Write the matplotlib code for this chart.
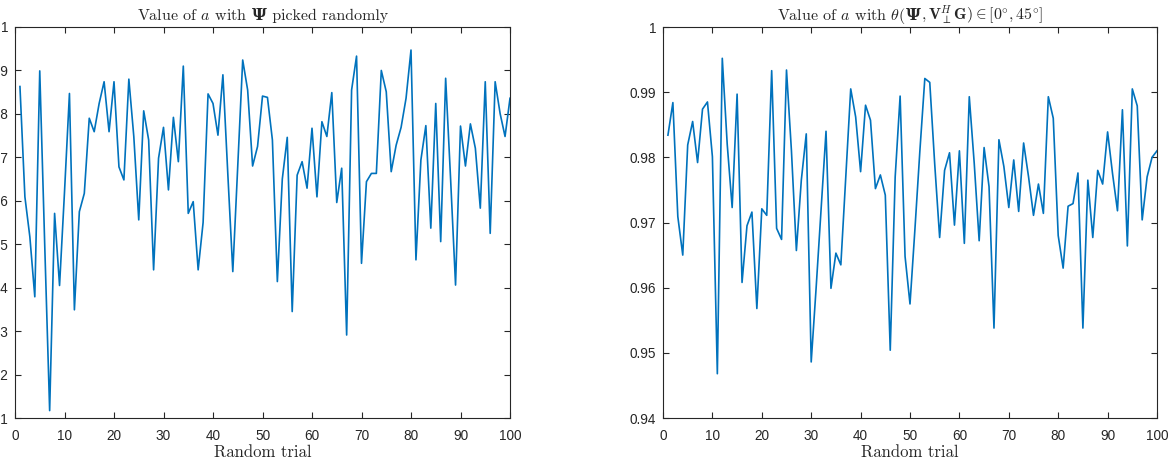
import matplotlib
matplotlib.use("Agg")
import matplotlib.pyplot as plt
from matplotlib.ticker import FuncFormatter

# ---- data ----
trials = list(range(1, 101))

a_random = [
    0.863, 0.609, 0.517, 0.379, 0.899, 0.50, 0.117, 0.571, 0.405, 0.62,
    0.847, 0.349, 0.575, 0.617, 0.790, 0.759, 0.824, 0.874, 0.759, 0.874,
    0.678, 0.648, 0.880, 0.748, 0.556, 0.807, 0.740, 0.441, 0.698, 0.769,
    0.625, 0.792, 0.690, 0.910, 0.571, 0.598, 0.441, 0.55, 0.846, 0.824,
    0.751, 0.890, 0.66, 0.437, 0.68, 0.924, 0.855, 0.680, 0.725, 0.841,
    0.838, 0.740, 0.414, 0.65, 0.746, 0.345, 0.659, 0.690, 0.629, 0.767,
    0.609, 0.782, 0.748, 0.849, 0.596, 0.675, 0.291, 0.855, 0.933, 0.456,
    0.644, 0.663, 0.663, 0.900, 0.851, 0.667, 0.728, 0.769, 0.836, 0.947,
    0.464, 0.694, 0.773, 0.537, 0.824, 0.506, 0.882, 0.65, 0.406, 0.772,
    0.680, 0.777, 0.721, 0.583, 0.874, 0.525, 0.874, 0.801, 0.748, 0.836,
]

a_angle = [
    0.9834, 0.9884, 0.9709, 0.9650, 0.9819, 0.9855, 0.9792, 0.9874, 0.9885, 0.9801,
    0.9468, 0.9952, 0.9820, 0.9723, 0.9897, 0.9608, 0.9695, 0.9716, 0.9568, 0.9721,
    0.9711, 0.9933, 0.9691, 0.9674, 0.9934, 0.9810, 0.9657, 0.9765, 0.9836, 0.9486,
    0.9600, 0.9720, 0.9840, 0.9599, 0.9653, 0.9635, 0.9770, 0.9905, 0.9862, 0.9778,
    0.9880, 0.9857, 0.9752, 0.9773, 0.9742, 0.9504, 0.9770, 0.9894, 0.9648, 0.9575,
    0.9690, 0.9810, 0.9921, 0.9915, 0.9790, 0.9677, 0.9780, 0.9807, 0.9696, 0.9810,
    0.9668, 0.9893, 0.9791, 0.9672, 0.9815, 0.9755, 0.9538, 0.9827, 0.9786, 0.9723,
    0.9796, 0.9717, 0.9822, 0.9770, 0.9711, 0.9759, 0.9714, 0.9893, 0.9860, 0.9680,
    0.9630, 0.9725, 0.9729, 0.9776, 0.9538, 0.9765, 0.9677, 0.9780, 0.9759, 0.9839,
    0.9775, 0.9718, 0.9873, 0.9664, 0.9905, 0.9879, 0.9704, 0.9770, 0.9800, 0.9810,
]

x_ticks = list(range(0, 101, 10))
y_ticks_left = [0.1, 0.2, 0.3, 0.4, 0.5, 0.6, 0.7, 0.8, 0.9, 1.0]
y_ticks_right = [0.94, 0.95, 0.96, 0.97, 0.98, 0.99, 1.0]

# titles as pieces: (text, is_bold_greek, extra gap after in px)
title_left = [(r"Value of $a$ with", False, 5), ("\u03A8", True, 0), (" picked randomly", False, 0)]
title_right = [(r"Value of $a$ with $\theta($", False, 0), ("\u03A8", True, 0),
               (r"$,\mathbf{V}_{\perp}^{H}\mathbf{G})\in[0^{\circ},45^{\circ}]$", False, 0)]
xlabel = "Random trial"

# ---- style ----
plt.rcParams["mathtext.fontset"] = "cm"
plt.rcParams["font.family"] = ["Liberation Sans", "DejaVu Sans"]
LINE = "#0072BD"
AX = "#262626"
TSIZE = 11.5

W, H = 1170, 469
fig = plt.figure(figsize=(W / 100, H / 100), dpi=100)

def px_axes(x0, x1, y0, y1):
    return fig.add_axes([x0 / W, 1 - y1 / H, (x1 - x0) / W, (y1 - y0) / H])

ax1 = px_axes(15, 510, 27, 418)
ax2 = px_axes(663, 1157, 27, 418)

fmt = FuncFormatter(lambda v, p: "{:g}".format(round(v, 4)))

renderer = fig.canvas.get_renderer()

def composed_title(ax, pieces, baseline_px=20):
    bb = ax.get_position()
    cx = (bb.x0 + bb.x1) / 2 * W
    texts = []
    for s, bold, gap in pieces:
        if bold:
            t = fig.text(0, 1 - baseline_px / H, s, fontsize=TSIZE * 1.02,
                         family="DejaVu Serif", weight="bold", color=AX,
                         ha="left", va="baseline")
        else:
            t = fig.text(0, 1 - baseline_px / H, s, fontsize=TSIZE,
                         family="cmr10", color=AX, ha="left", va="baseline")
        texts.append((t, gap))
    widths = [t.get_window_extent(renderer).width + g for t, g in texts]
    x = cx - sum(widths) / 2
    for (t, g), w in zip(texts, widths):
        t.set_x(x / W)
        x += w

for ax, y, yt, ylim, title in [
    (ax1, a_random, y_ticks_left, (0.1, 1.0), title_left),
    (ax2, a_angle, y_ticks_right, (0.94, 1.0), title_right),
]:
    ax.plot(trials, y, color=LINE, linewidth=1.2)
    ax.set_xlim(0, 100)
    ax.set_ylim(*ylim)
    ax.set_xticks(x_ticks)
    ax.set_yticks(yt)
    ax.yaxis.set_major_formatter(fmt)
    ax.tick_params(direction="in", length=4, width=0.8, colors=AX,
                   labelsize=9.8, top=True, right=True, pad=5)
    ax.tick_params(axis="x", pad=8)
    for s in ax.spines.values():
        s.set_color(AX)
        s.set_linewidth(0.8)
    composed_title(ax, title)
    ax.set_xlabel(xlabel, fontsize=12, family="cmr10", color=AX, labelpad=1)

fig.savefig("out.png", dpi=100)
